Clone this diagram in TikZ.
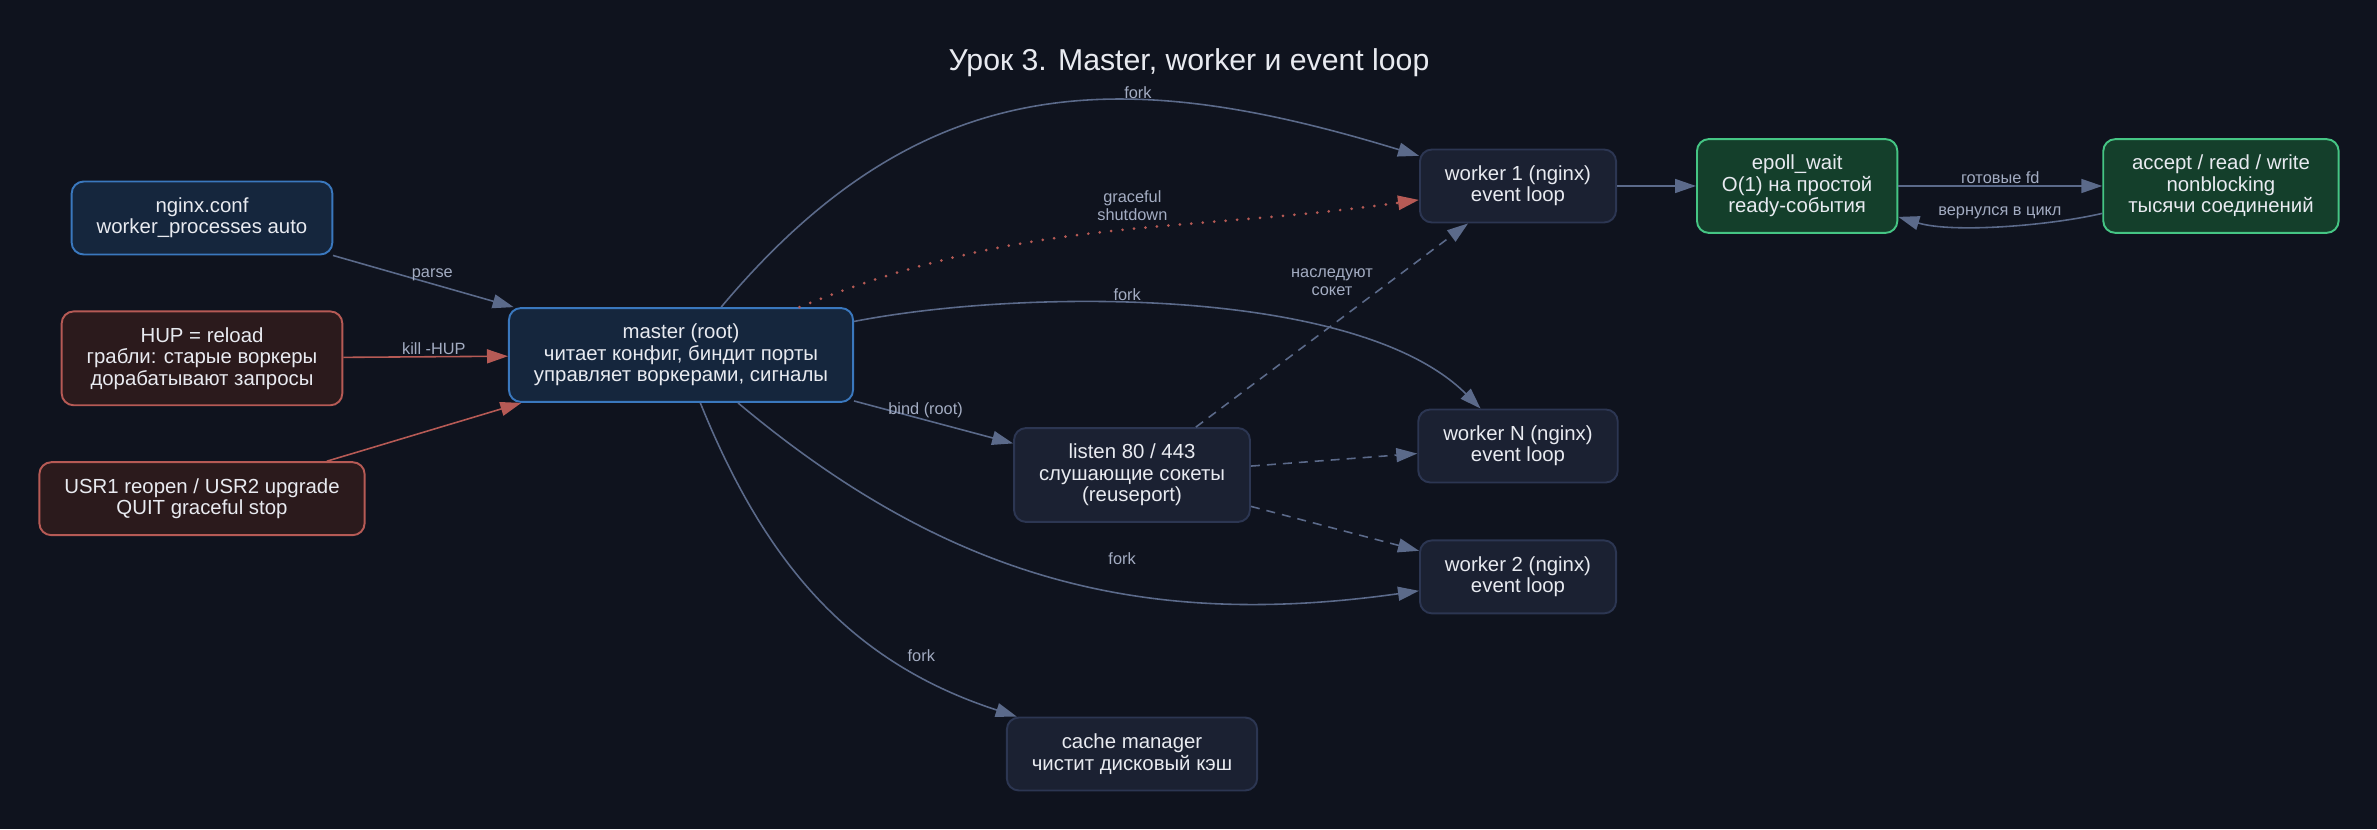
\documentclass[tikz,border=0pt]{standalone}
\usepackage{fontspec}
\setmainfont{Liberation Sans}
\usetikzlibrary{arrows.meta,positioning}

\definecolor{bgcol}{HTML}{0F131E}
\definecolor{conffill}{HTML}{15263D}
\definecolor{confdraw}{HTML}{3A78BE}
\definecolor{sigfill}{HTML}{2B1A1C}
\definecolor{sigdraw}{HTML}{B65A55}
\definecolor{procfill}{HTML}{1B2132}
\definecolor{procdraw}{HTML}{2C3652}
\definecolor{loopfill}{HTML}{143F2B}
\definecolor{loopdraw}{HTML}{45C584}
\definecolor{edgecol}{HTML}{5B6A8A}
\definecolor{txtcol}{HTML}{E8EAF0}
\definecolor{lblcol}{HTML}{A3ACC2}

\begin{document}
\begin{tikzpicture}[x=0.02cm, y=0.02cm,
			node distance=1.1cm and 1.58cm,
			basebox/.style={rectangle, draw, rounded corners=0.24cm, line width=1.1pt, align=center, inner xsep=0.5cm, inner ysep=0.32cm, minimum height=1.46cm, text=txtcol, font=\fontsize{11.6}{12.2}\selectfont},
			confbox/.style={basebox, draw=confdraw, fill=conffill},
			sigbox/.style={basebox, draw=sigdraw, fill=sigfill},
			procbox/.style={basebox, draw=procdraw, fill=procfill},
			loopbox/.style={basebox, draw=loopdraw, fill=loopfill},
			line/.style={draw=edgecol, line width=0.9pt, -{Triangle[length=0.42cm, width=0.28cm]}},
			sigline/.style={line, draw=sigdraw},
			softline/.style={line, dash pattern=on 0.18cm off 0.14cm},
			dotline/.style={line, draw=sigdraw, line width=1.7pt, line cap=round, dash pattern=on 0pt off 0.23cm},
			lbl/.style={font=\fontsize{9.3}{10}\selectfont, text=lblcol, align=center, inner sep=1pt}
		]
		\path [fill=bgcol, use as bounding box] (0,0) rectangle (2377,829);

		\node (title) at (1189,766) [text=txtcol, font=\fontsize{17.2}{19}\selectfont] {Урок 3. Master, worker и event loop};

		% Nodes: config and signals on the left, master in the middle
		\node (nginxconf) at (202,611) [confbox] {nginx.conf\\worker\_processes auto};
		\node (hup) [sigbox, below=of nginxconf] {HUP = reload\\грабли: старые воркеры\\дорабатывают запросы};
		\node (signals) [sigbox, below=of hup] {USR1 reopen / USR2 upgrade\\QUIT graceful stop};
		\node (master) at (681,474) [confbox] {master (root)\\читает конфиг, биндит порты\\управляет воркерами, сигналы};

		\node (listen) at (1132,354) [procbox] {listen 80 / 443\\слушающие сокеты\\(reuseport)};
		\node (cache) at (1132,75) [procbox] {cache manager\\чистит дисковый кэш};

		% Workers and the event loop
		\node (worker1) at (1518,643) [procbox] {worker 1 (nginx)\\event loop};
		\node (workern) at (1518,383) [procbox] {worker N (nginx)\\event loop};
		\node (worker2) [procbox, below=1.12cm of workern] {worker 2 (nginx)\\event loop};
		\node (epoll) [loopbox, right=of worker1] {epoll\_wait\\O(1) на простой\\ready-события};
		\node (accept) [loopbox, right=4.08cm of epoll] {accept / read / write\\nonblocking\\тысячи соединений};

		% Lines
		\draw [line] (nginxconf) -- node[lbl, pos=0.55, above] {parse} (master);
		\draw [sigline] (hup) -- node[lbl, pos=0.55, above] {kill -HUP} (master);
		\draw [sigline] (signals) -- (master);
		\draw [line] (master) to[out=50, in=163, looseness=1.12] node[lbl, pos=0.65, above] {fork} (worker1);
		\draw [dotline] (master) to[out=22, in=188] node[lbl, pos=0.55, above=0.1cm] {graceful\\shutdown} (worker1);
		\draw [line] (master) to[out=11, in=135, looseness=0.7] node[lbl, pos=0.42, above] {fork} (workern);
		\draw [line] (master) -- node[lbl, pos=0.45, above] {bind (root)} (listen);
		\draw [line] (master) to[out=-40, in=188] node[lbl, pos=0.6, above=0.5cm] {fork} (worker2);
		\draw [line] (master) to[out=-68, in=162] node[lbl, pos=0.7, right=0.35cm] {fork} (cache);
		\draw [softline] (listen) -- node[lbl, midway, above=0.55cm] {наследуют\\сокет} (worker1);
		\draw [softline] (listen) -- (workern);
		\draw [softline] (listen) -- (worker2);
		\draw [line] (worker1) -- (epoll);
		\draw [line] (epoll) -- node[lbl, above] {готовые fd} (accept);
		\draw [line] (accept) to[out=193, in=343, looseness=0.7] node[lbl, above=0.1cm] {вернулся в цикл} (epoll);
	\end{tikzpicture}
\end{document}
